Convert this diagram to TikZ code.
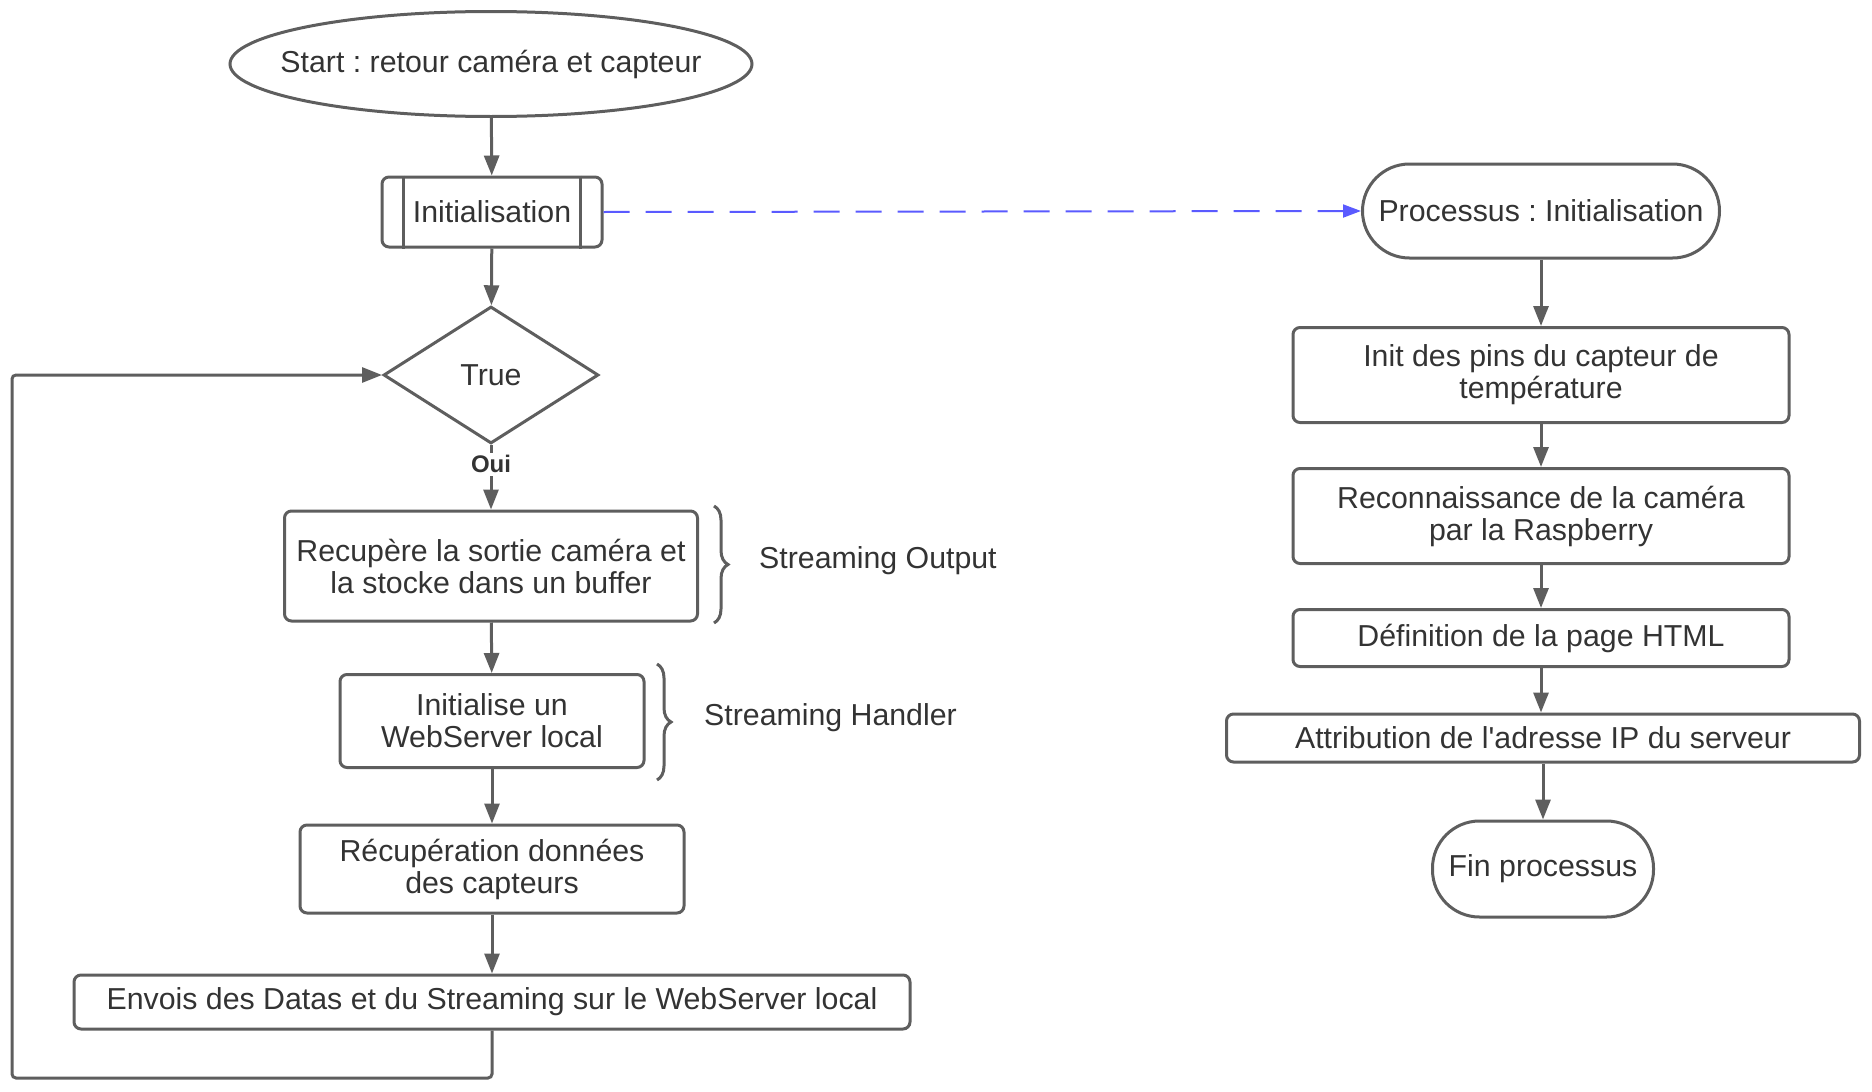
\documentclass[tikz,border=0pt]{standalone}
\usepackage{fontspec}
\setmainfont{Liberation Sans}[Ligatures=TeXOff]
\usetikzlibrary{shapes.geometric,arrows.meta,decorations.pathreplacing}

\definecolor{ln}{HTML}{5E5E5E}
\definecolor{tx}{HTML}{333333}
\definecolor{linkblue}{HTML}{5A5AFF}
\frenchspacing

\begin{document}
\begin{tikzpicture}[x=1pt,y=-1pt,
  base/.style={draw=ln, line width=3pt, text=tx, align=center, inner sep=0pt,
    font=\fontsize{30.3}{32}\selectfont},
  box/.style={base, rectangle, rounded corners=7pt},
  term/.style={base, rectangle, rounded corners=47pt},
  arr/.style={draw=ln, line width=3pt, -{Triangle[length=20pt,width=15pt]}},
  note/.style={text=tx, anchor=west, inner sep=0pt, font=\fontsize{30.3}{32}\selectfont},
  bracket/.style={draw=ln, line width=3pt, decorate,
    decoration={brace, amplitude=14pt}}
]
\useasboundingbox (0,0) rectangle (1872,1092);

% main loop
\node[base, ellipse, minimum width=522pt, minimum height=105pt] (start) at (491,64) {};
\node[text=tx, font=\fontsize{30.3}{32}\selectfont, inner sep=0pt] (starttxt) at (start.center) {Start : retour caméra et capteur};
\node[box, minimum width=220pt, minimum height=70pt] (init) at (492,212) {Initialisation};
\draw[ln, line width=3pt] ([xshift=23pt]init.north west) -- ([xshift=23pt]init.south west)
  ([xshift=-23pt]init.north east) -- ([xshift=-23pt]init.south east);
\node[base, diamond, minimum width=215pt, minimum height=137pt] (cond) at (491,375) {True};
\node[box, minimum width=413pt, minimum height=110pt] (rec) at (491,566) {Recupère la sortie caméra et\\la stocke dans un buffer};
\node[box, minimum width=304pt, minimum height=93pt] (ws) at (492,721) {Initialise un\\WebServer local};
\node[box, minimum width=384pt, minimum height=88pt] (data) at (492,869) {Récupération données\\des capteurs};
\node[box, minimum width=836pt, minimum height=54pt] (send) at (492,1002) {Envois des Datas et du Streaming sur le WebServer local};

\draw[arr] (start) -- (init);
\draw[arr] (init) -- (cond);
\draw[arr] (cond) -- node[pos=0.3, fill=white, text=tx, inner sep=3pt, font=\fontsize{24}{26}\selectfont\bfseries] (oui) {Oui} (rec);
\draw[arr] (rec) -- (ws);
\draw[arr] (ws) -- (data);
\draw[arr] (data) -- (send);
\coordinate (loopl) at (12,1078);
\draw[arr, rounded corners=4pt] (send.south) |- (loopl) |- (cond.west);

% annotations
\coordinate (b1t) at (714,506);
\coordinate (b1b) at (714,623);
\draw[bracket] (b1t) -- (b1b);
\node[note] (so) at (759,561) {Streaming Output};
\coordinate (b2t) at (657,664);
\coordinate (b2b) at (657,780);
\draw[bracket] (b2t) -- (b2b);
\node[note] (sh) at (704,718) {Streaming Handler};

% initialisation process
\node[term, minimum width=357pt, minimum height=94pt] (proc) at (1541,211) {Processus : Initialisation};
\node[box, minimum width=496pt, minimum height=95pt] (pins) at (1541,375) {Init des pins du capteur de\\température};
\node[box, minimum width=496pt, minimum height=95pt] (cam) at (1541,516) {Reconnaissance de la caméra\\par la Raspberry};
\node[box, minimum width=496pt, minimum height=57pt] (html) at (1541,638) {Définition de la page HTML};
\node[box, minimum width=633pt, minimum height=48pt] (ip) at (1543,738) {Attribution de l'adresse IP du serveur};
\node[term, minimum width=221pt, minimum height=96pt] (fin) at (1543,869) {Fin processus};

\draw[arr] (proc) -- (pins);
\draw[arr] (pins) -- (cam);
\draw[arr] (cam) -- (html);
\draw[arr] (html.south) -- (html.south |- ip.north);
\draw[arr] (ip) -- (fin);

\draw[draw=linkblue, line width=2pt, dash pattern=on 26pt off 16pt,
  -{Triangle[length=18pt,width=13pt]}] (init.east) -- (proc.west);
\end{tikzpicture}
\end{document}
